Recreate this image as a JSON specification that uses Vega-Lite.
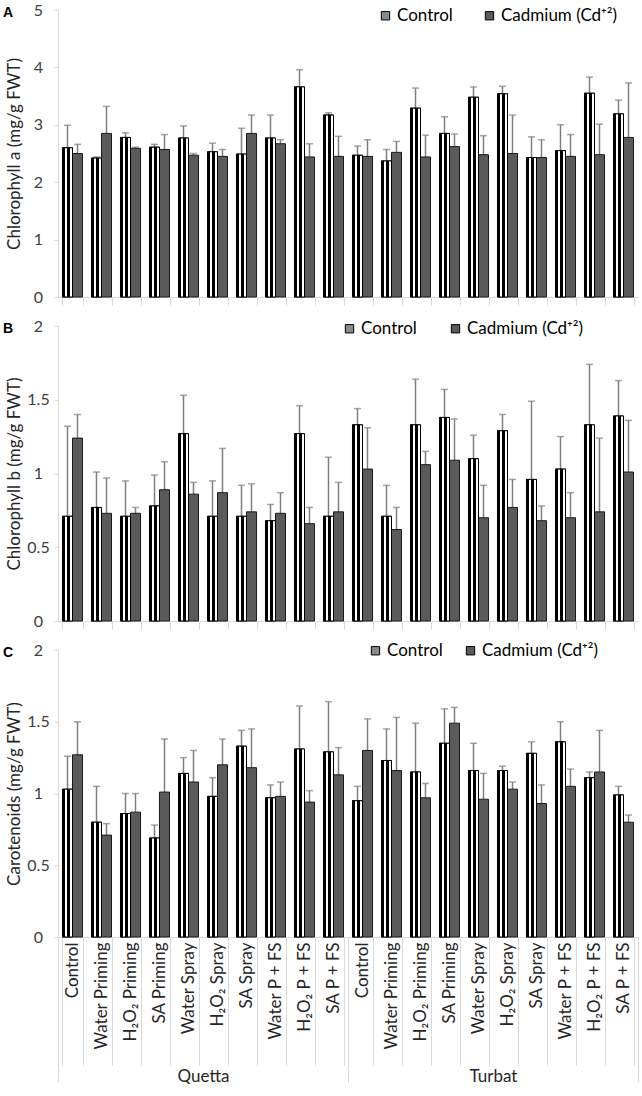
{
  "$schema": "https://vega.github.io/schema/vega-lite/v6.json",
  "padding": {"left": 3, "top": 2, "right": 2, "bottom": 0},
  "spacing": 12,
  "config": {
    "font": "Lato",
    "view": {"stroke": null},
    "axis": {"labelFont": "Lato", "titleFont": "Lato", "domainColor": "#d9d9d9", "tickColor": "#d9d9d9", "labelColor": "#404040", "titleColor": "#262626", "labelFontSize": 16, "titleFontSize": 17, "titleFontWeight": "normal", "grid": false},
    "axisY": {"labelAlign": "center", "labelPadding": 16, "tickSize": 4, "titleX": -44, "titleBaseline": "middle", "labelFlush": false, "format": "~g"},
    "legend": {"symbolType": "square", "symbolSize": 70, "symbolStrokeColor": "#000", "symbolStrokeWidth": 1, "labelFont": "Lato", "labelFontSize": 17, "labelColor": "#000", "labelOffset": 3, "direction": "horizontal", "orient": "none", "title": null},
    "title": {"font": "Liberation Sans", "fontSize": 14, "fontWeight": "bold", "anchor": "start", "frame": "group", "dx": -55, "dy": 22, "color": "#000"}
  },
  "datasets": {
    "d": [
      {"loc": "Quetta", "cat": "Quetta|Control", "cond": "Control", "a": 2.60, "aHi": 2.99, "b": 0.71, "bHi": 1.32, "c": 1.03, "cHi": 1.26},
      {"loc": "Quetta", "cat": "Quetta|Control", "cond": "Cadmium (Cd⁺²)", "a": 2.50, "aHi": 2.66, "b": 1.24, "bHi": 1.40, "c": 1.27, "cHi": 1.50},
      {"loc": "Quetta", "cat": "Quetta|Water Priming", "cond": "Control", "a": 2.42, "aHi": 2.44, "b": 0.77, "bHi": 1.01, "c": 0.80, "cHi": 1.05},
      {"loc": "Quetta", "cat": "Quetta|Water Priming", "cond": "Cadmium (Cd⁺²)", "a": 2.85, "aHi": 3.32, "b": 0.73, "bHi": 0.97, "c": 0.71, "cHi": 0.79},
      {"loc": "Quetta", "cat": "Quetta|H₂O₂ Priming", "cond": "Control", "a": 2.78, "aHi": 2.86, "b": 0.71, "bHi": 0.95, "c": 0.86, "cHi": 1.00},
      {"loc": "Quetta", "cat": "Quetta|H₂O₂ Priming", "cond": "Cadmium (Cd⁺²)", "a": 2.59, "aHi": 2.61, "b": 0.73, "bHi": 0.77, "c": 0.87, "cHi": 1.00},
      {"loc": "Quetta", "cat": "Quetta|SA Priming", "cond": "Control", "a": 2.61, "aHi": 2.66, "b": 0.78, "bHi": 0.99, "c": 0.69, "cHi": 0.78},
      {"loc": "Quetta", "cat": "Quetta|SA Priming", "cond": "Cadmium (Cd⁺²)", "a": 2.57, "aHi": 2.83, "b": 0.89, "bHi": 1.08, "c": 1.01, "cHi": 1.38},
      {"loc": "Quetta", "cat": "Quetta|Water Spray", "cond": "Control", "a": 2.77, "aHi": 2.98, "b": 1.27, "bHi": 1.53, "c": 1.14, "cHi": 1.25},
      {"loc": "Quetta", "cat": "Quetta|Water Spray", "cond": "Cadmium (Cd⁺²)", "a": 2.47, "aHi": 2.50, "b": 0.86, "bHi": 0.94, "c": 1.08, "cHi": 1.30},
      {"loc": "Quetta", "cat": "Quetta|H₂O₂ Spray", "cond": "Control", "a": 2.53, "aHi": 2.68, "b": 0.71, "bHi": 0.95, "c": 0.98, "cHi": 1.11},
      {"loc": "Quetta", "cat": "Quetta|H₂O₂ Spray", "cond": "Cadmium (Cd⁺²)", "a": 2.45, "aHi": 2.57, "b": 0.87, "bHi": 1.17, "c": 1.20, "cHi": 1.38},
      {"loc": "Quetta", "cat": "Quetta|SA Spray", "cond": "Control", "a": 2.49, "aHi": 2.94, "b": 0.71, "bHi": 0.92, "c": 1.33, "cHi": 1.44},
      {"loc": "Quetta", "cat": "Quetta|SA Spray", "cond": "Cadmium (Cd⁺²)", "a": 2.85, "aHi": 3.17, "b": 0.74, "bHi": 0.93, "c": 1.18, "cHi": 1.45},
      {"loc": "Quetta", "cat": "Quetta|Water P + FS", "cond": "Control", "a": 2.77, "aHi": 3.17, "b": 0.68, "bHi": 0.79, "c": 0.97, "cHi": 1.06},
      {"loc": "Quetta", "cat": "Quetta|Water P + FS", "cond": "Cadmium (Cd⁺²)", "a": 2.67, "aHi": 2.74, "b": 0.73, "bHi": 0.87, "c": 0.98, "cHi": 1.08},
      {"loc": "Quetta", "cat": "Quetta|H₂O₂ P + FS", "cond": "Control", "a": 3.66, "aHi": 3.96, "b": 1.27, "bHi": 1.46, "c": 1.31, "cHi": 1.61},
      {"loc": "Quetta", "cat": "Quetta|H₂O₂ P + FS", "cond": "Cadmium (Cd⁺²)", "a": 2.44, "aHi": 2.67, "b": 0.66, "bHi": 0.77, "c": 0.94, "cHi": 1.02},
      {"loc": "Quetta", "cat": "Quetta|SA P + FS", "cond": "Control", "a": 3.17, "aHi": 3.21, "b": 0.71, "bHi": 1.11, "c": 1.29, "cHi": 1.64},
      {"loc": "Quetta", "cat": "Quetta|SA P + FS", "cond": "Cadmium (Cd⁺²)", "a": 2.45, "aHi": 2.80, "b": 0.74, "bHi": 0.94, "c": 1.13, "cHi": 1.32},
      {"loc": "Turbat", "cat": "Turbat|Control", "cond": "Control", "a": 2.47, "aHi": 2.63, "b": 1.33, "bHi": 1.44, "c": 0.95, "cHi": 1.05},
      {"loc": "Turbat", "cat": "Turbat|Control", "cond": "Cadmium (Cd⁺²)", "a": 2.45, "aHi": 2.74, "b": 1.03, "bHi": 1.31, "c": 1.30, "cHi": 1.52},
      {"loc": "Turbat", "cat": "Turbat|Water Priming", "cond": "Control", "a": 2.37, "aHi": 2.57, "b": 0.71, "bHi": 0.92, "c": 1.23, "cHi": 1.45},
      {"loc": "Turbat", "cat": "Turbat|Water Priming", "cond": "Cadmium (Cd⁺²)", "a": 2.52, "aHi": 2.71, "b": 0.62, "bHi": 0.77, "c": 1.16, "cHi": 1.53},
      {"loc": "Turbat", "cat": "Turbat|H₂O₂ Priming", "cond": "Control", "a": 3.29, "aHi": 3.64, "b": 1.33, "bHi": 1.64, "c": 1.15, "cHi": 1.49},
      {"loc": "Turbat", "cat": "Turbat|H₂O₂ Priming", "cond": "Cadmium (Cd⁺²)", "a": 2.44, "aHi": 2.82, "b": 1.06, "bHi": 1.15, "c": 0.97, "cHi": 1.07},
      {"loc": "Turbat", "cat": "Turbat|SA Priming", "cond": "Control", "a": 2.85, "aHi": 3.14, "b": 1.38, "bHi": 1.57, "c": 1.35, "cHi": 1.59},
      {"loc": "Turbat", "cat": "Turbat|SA Priming", "cond": "Cadmium (Cd⁺²)", "a": 2.62, "aHi": 2.84, "b": 1.09, "bHi": 1.37, "c": 1.49, "cHi": 1.60},
      {"loc": "Turbat", "cat": "Turbat|Water Spray", "cond": "Control", "a": 3.48, "aHi": 3.66, "b": 1.10, "bHi": 1.26, "c": 1.16, "cHi": 1.35},
      {"loc": "Turbat", "cat": "Turbat|Water Spray", "cond": "Cadmium (Cd⁺²)", "a": 2.48, "aHi": 2.81, "b": 0.70, "bHi": 0.92, "c": 0.96, "cHi": 1.14},
      {"loc": "Turbat", "cat": "Turbat|H₂O₂ Spray", "cond": "Control", "a": 3.54, "aHi": 3.67, "b": 1.29, "bHi": 1.40, "c": 1.16, "cHi": 1.19},
      {"loc": "Turbat", "cat": "Turbat|H₂O₂ Spray", "cond": "Cadmium (Cd⁺²)", "a": 2.50, "aHi": 3.17, "b": 0.77, "bHi": 0.96, "c": 1.03, "cHi": 1.08},
      {"loc": "Turbat", "cat": "Turbat|SA Spray", "cond": "Control", "a": 2.43, "aHi": 2.79, "b": 0.96, "bHi": 1.49, "c": 1.28, "cHi": 1.36},
      {"loc": "Turbat", "cat": "Turbat|SA Spray", "cond": "Cadmium (Cd⁺²)", "a": 2.43, "aHi": 2.74, "b": 0.68, "bHi": 0.78, "c": 0.93, "cHi": 1.06},
      {"loc": "Turbat", "cat": "Turbat|Water P + FS", "cond": "Control", "a": 2.55, "aHi": 3.00, "b": 1.03, "bHi": 1.25, "c": 1.36, "cHi": 1.50},
      {"loc": "Turbat", "cat": "Turbat|Water P + FS", "cond": "Cadmium (Cd⁺²)", "a": 2.45, "aHi": 2.83, "b": 0.70, "bHi": 0.87, "c": 1.05, "cHi": 1.17},
      {"loc": "Turbat", "cat": "Turbat|H₂O₂ P + FS", "cond": "Control", "a": 3.55, "aHi": 3.83, "b": 1.33, "bHi": 1.74, "c": 1.11, "cHi": 1.15},
      {"loc": "Turbat", "cat": "Turbat|H₂O₂ P + FS", "cond": "Cadmium (Cd⁺²)", "a": 2.48, "aHi": 3.01, "b": 0.74, "bHi": 1.24, "c": 1.15, "cHi": 1.44},
      {"loc": "Turbat", "cat": "Turbat|SA P + FS", "cond": "Control", "a": 3.19, "aHi": 3.43, "b": 1.39, "bHi": 1.63, "c": 0.99, "cHi": 1.05},
      {"loc": "Turbat", "cat": "Turbat|SA P + FS", "cond": "Cadmium (Cd⁺²)", "a": 2.78, "aHi": 3.73, "b": 1.01, "bHi": 1.36, "c": 0.80, "cHi": 0.85}
    ]
  },
  "resolve": {"scale": {"x": "independent", "y": "independent", "fill": "independent"}, "legend": {"fill": "independent"}},
  "vconcat": [
    {
      "title": {"text": "A"},
      "width": 580,
      "height": 287,
      "data": {"name": "d"},
      "encoding": {
        "x": {"field": "cat", "type": "nominal", "sort": null, "scale": {"paddingInner": 0.31, "paddingOuter": 0.155}, "axis": {"labels": false, "title": null, "tickBand": "extent", "tickSize": 8}},
        "xOffset": {"field": "cond", "type": "nominal", "sort": ["Control", "Cadmium (Cd⁺²)"], "scale": {"paddingInner": 0, "paddingOuter": 0}},
        "y": {"field": "a", "type": "quantitative", "scale": {"domain": [0, 5], "nice": false}, "axis": {"values": [0, 1, 2, 3, 4, 5], "title": "Chlorophyll a (mg/g FWT)"}}
      },
      "layer": [
        {"mark": {"type": "rule", "color": "#7f7f7f", "strokeWidth": 1.5}, "encoding": {"y2": {"field": "aHi"}}},
        {"mark": {"type": "tick", "color": "#7f7f7f", "thickness": 1.5, "size": 7}, "encoding": {"y": {"field": "aHi", "type": "quantitative"}}},
        {"mark": {"type": "bar", "stroke": "#1a1a1a", "strokeWidth": 1}, "encoding": {"fill": {"field": "cond", "type": "nominal", "sort": ["Control", "Cadmium (Cd⁺²)"], "scale": {"domain": ["Control", "Cadmium (Cd⁺²)"], "range": ["#8a8a8a", "#5a5a5a"]}, "legend": {"legendX": 319, "legendY": -3, "columnPadding": 28}}}},
        {"transform": [{"filter": "datum.cond === 'Control'"}], "mark": {"type": "bar", "stroke": "#000", "strokeWidth": 1, "fill": {"gradient": "linear", "x1": 0, "y1": 0, "x2": 1, "y2": 0, "stops": [{"offset": 0, "color": "#000"}, {"offset": 0.24, "color": "#000"}, {"offset": 0.24, "color": "#fff"}, {"offset": 0.5, "color": "#fff"}, {"offset": 0.5, "color": "#000"}, {"offset": 0.74, "color": "#000"}, {"offset": 0.74, "color": "#fff"}, {"offset": 1, "color": "#fff"}]}}}
      ]
    },
    {
      "title": {"text": "B"},
      "width": 580,
      "height": 295,
      "data": {"name": "d"},
      "encoding": {
        "x": {"field": "cat", "type": "nominal", "sort": null, "scale": {"paddingInner": 0.31, "paddingOuter": 0.155}, "axis": {"labels": false, "title": null, "tickBand": "extent", "tickSize": 8}},
        "xOffset": {"field": "cond", "type": "nominal", "sort": ["Control", "Cadmium (Cd⁺²)"], "scale": {"paddingInner": 0, "paddingOuter": 0}},
        "y": {"field": "b", "type": "quantitative", "scale": {"domain": [0, 2], "nice": false}, "axis": {"values": [0, 0.5, 1, 1.5, 2], "title": "Chlorophyll b (mg/g FWT)"}}
      },
      "layer": [
        {"mark": {"type": "rule", "color": "#7f7f7f", "strokeWidth": 1.5}, "encoding": {"y2": {"field": "bHi"}}},
        {"mark": {"type": "tick", "color": "#7f7f7f", "thickness": 1.5, "size": 7}, "encoding": {"y": {"field": "bHi", "type": "quantitative"}}},
        {"mark": {"type": "bar", "stroke": "#1a1a1a", "strokeWidth": 1}, "encoding": {"fill": {"field": "cond", "type": "nominal", "sort": ["Control", "Cadmium (Cd⁺²)"], "scale": {"domain": ["Control", "Cadmium (Cd⁺²)"], "range": ["#8a8a8a", "#5a5a5a"]}, "legend": {"legendX": 283, "legendY": -6, "columnPadding": 30}}}},
        {"transform": [{"filter": "datum.cond === 'Control'"}], "mark": {"type": "bar", "stroke": "#000", "strokeWidth": 1, "fill": {"gradient": "linear", "x1": 0, "y1": 0, "x2": 1, "y2": 0, "stops": [{"offset": 0, "color": "#000"}, {"offset": 0.24, "color": "#000"}, {"offset": 0.24, "color": "#fff"}, {"offset": 0.5, "color": "#fff"}, {"offset": 0.5, "color": "#000"}, {"offset": 0.74, "color": "#000"}, {"offset": 0.74, "color": "#fff"}, {"offset": 1, "color": "#fff"}]}}}
      ]
    },
    {
      "title": {"text": "C"},
      "width": 580,
      "height": 287,
      "data": {"name": "d"},
      "layer": [
        {
          "encoding": {
            "x": {"field": "cat", "type": "nominal", "sort": null, "scale": {"paddingInner": 0.31, "paddingOuter": 0.155}, "axis": {"orient": "bottom", "title": null, "tickBand": "extent", "tickSize": 128, "labelPadding": -123, "labelAngle": -90, "labelExpr": "split(datum.value, '|')[1]", "labelColor": "#262626", "labelFontSize": 17}},
            "xOffset": {"field": "cond", "type": "nominal", "sort": ["Control", "Cadmium (Cd⁺²)"], "scale": {"paddingInner": 0, "paddingOuter": 0}},
            "y": {"field": "c", "type": "quantitative", "scale": {"domain": [0, 2], "nice": false}, "axis": {"values": [0, 0.5, 1, 1.5, 2], "title": "Carotenoids (mg/g FWT)"}}
          },
          "layer": [
            {"mark": {"type": "rule", "color": "#7f7f7f", "strokeWidth": 1.5}, "encoding": {"y2": {"field": "cHi"}}},
            {"mark": {"type": "tick", "color": "#7f7f7f", "thickness": 1.5, "size": 7}, "encoding": {"y": {"field": "cHi", "type": "quantitative"}}},
            {"mark": {"type": "bar", "stroke": "#1a1a1a", "strokeWidth": 1}, "encoding": {"fill": {"field": "cond", "type": "nominal", "sort": ["Control", "Cadmium (Cd⁺²)"], "scale": {"domain": ["Control", "Cadmium (Cd⁺²)"], "range": ["#8a8a8a", "#5a5a5a"]}, "legend": {"legendX": 309, "legendY": -8, "columnPadding": 19}}}},
            {"transform": [{"filter": "datum.cond === 'Control'"}], "mark": {"type": "bar", "stroke": "#000", "strokeWidth": 1, "fill": {"gradient": "linear", "x1": 0, "y1": 0, "x2": 1, "y2": 0, "stops": [{"offset": 0, "color": "#000"}, {"offset": 0.24, "color": "#000"}, {"offset": 0.24, "color": "#fff"}, {"offset": 0.5, "color": "#fff"}, {"offset": 0.5, "color": "#000"}, {"offset": 0.74, "color": "#000"}, {"offset": 0.74, "color": "#fff"}, {"offset": 1, "color": "#fff"}]}}}
          ]
        },
        {
          "mark": {"type": "point", "opacity": 0},
          "encoding": {
            "x": {"field": "loc", "type": "nominal", "sort": null, "scale": {"type": "band", "paddingInner": 0, "paddingOuter": 0}, "axis": {"orient": "bottom", "title": null, "domain": false, "tickBand": "extent", "tickSize": 145, "labelPadding": -14, "labelAngle": 0, "labelColor": "#262626", "labelFontSize": 17}},
            "y": {"field": "c", "type": "quantitative", "axis": {"title": "Carotenoids (mg/g FWT)"}}
          }
        }
      ],
      "resolve": {"scale": {"x": "independent"}}
    }
  ]
}
